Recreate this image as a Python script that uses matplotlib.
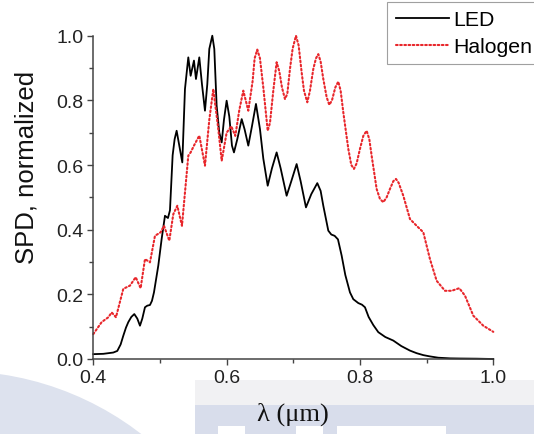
import matplotlib
matplotlib.use("Agg")
import matplotlib.pyplot as plt
from matplotlib.patches import Rectangle, Circle
from matplotlib.ticker import MultipleLocator

# ---- data ----
led_wl = [0.400, 0.415, 0.430, 0.436, 0.441, 0.445, 0.449, 0.4525, 0.457, 0.4615,
          0.466, 0.470, 0.4735, 0.4775, 0.481, 0.485, 0.488, 0.491, 0.4975, 0.5025,
          0.5075, 0.512, 0.515, 0.519, 0.522, 0.525, 0.529, 0.5335, 0.5375, 0.5425,
          0.546, 0.551, 0.554, 0.559, 0.563, 0.5675, 0.571, 0.574, 0.5785, 0.5815,
          0.585, 0.589, 0.5926, 0.596, 0.600, 0.604, 0.608, 0.611, 0.616, 0.6226,
          0.627, 0.6325, 0.638, 0.644, 0.650, 0.655, 0.6616, 0.668, 0.675, 0.681,
          0.690, 0.697, 0.705, 0.711, 0.719, 0.727, 0.736, 0.741, 0.745, 0.7525,
          0.757, 0.762, 0.767, 0.7725, 0.778, 0.785, 0.790, 0.7975, 0.803, 0.8075,
          0.813, 0.820, 0.8275, 0.838, 0.850, 0.862, 0.875, 0.885, 0.895, 0.905,
          0.9175, 0.935, 0.950, 0.975, 1.000]
led_spd = [0.015, 0.016, 0.020, 0.025, 0.045, 0.072, 0.097, 0.114, 0.130, 0.139,
           0.125, 0.103, 0.125, 0.160, 0.165, 0.167, 0.180, 0.206, 0.289, 0.371,
           0.443, 0.436, 0.460, 0.630, 0.680, 0.706, 0.660, 0.608, 0.835, 0.933,
           0.876, 0.923, 0.866, 0.933, 0.850, 0.768, 0.850, 0.959, 1.000, 0.959,
           0.784, 0.700, 0.670, 0.740, 0.799, 0.750, 0.660, 0.639, 0.680, 0.742,
           0.710, 0.660, 0.720, 0.789, 0.711, 0.620, 0.536, 0.590, 0.639, 0.590,
           0.505, 0.550, 0.603, 0.550, 0.469, 0.510, 0.544, 0.520, 0.474, 0.397,
           0.385, 0.381, 0.370, 0.320, 0.260, 0.206, 0.185, 0.173, 0.168, 0.160,
           0.130, 0.105, 0.083, 0.068, 0.057, 0.040, 0.026, 0.018, 0.012, 0.008,
           0.004, 0.002, 0.0015, 0.001, 0.0]

hal_wl = [0.400, 0.4125, 0.4225, 0.4276, 0.434, 0.445, 0.455, 0.4636, 0.471, 0.4775,
          0.485, 0.4925, 0.501, 0.506, 0.514, 0.520, 0.526, 0.533, 0.5425, 0.546,
          0.551, 0.559, 0.5675, 0.574, 0.580, 0.5875, 0.5926, 0.600, 0.607, 0.613,
          0.619, 0.625, 0.6325, 0.639, 0.642, 0.646, 0.650, 0.655, 0.6616, 0.665,
          0.670, 0.675, 0.679, 0.683, 0.6875, 0.691, 0.695, 0.699, 0.704, 0.708,
          0.7125, 0.716, 0.721, 0.725, 0.730, 0.734, 0.7375, 0.741, 0.745, 0.750,
          0.754, 0.758, 0.763, 0.7675, 0.771, 0.775, 0.7825, 0.787, 0.791, 0.795,
          0.800, 0.805, 0.810, 0.814, 0.8175, 0.825, 0.830, 0.835, 0.840, 0.845,
          0.850, 0.854, 0.858, 0.865, 0.875, 0.885, 0.895, 0.905, 0.915, 0.9275,
          0.9375, 0.949, 0.9575, 0.970, 0.985, 1.000]
hal_spd = [0.077, 0.114, 0.129, 0.144, 0.129, 0.217, 0.227, 0.253, 0.219, 0.309,
           0.299, 0.381, 0.392, 0.412, 0.366, 0.448, 0.474, 0.412, 0.629, 0.639,
           0.660, 0.691, 0.598, 0.740, 0.835, 0.711, 0.613, 0.700, 0.720, 0.690,
           0.770, 0.830, 0.768, 0.860, 0.930, 0.957, 0.930, 0.840, 0.706, 0.730,
           0.830, 0.918, 0.890, 0.840, 0.804, 0.820, 0.897, 0.960, 1.000, 0.970,
           0.887, 0.830, 0.794, 0.830, 0.897, 0.930, 0.943, 0.920, 0.866, 0.810,
           0.786, 0.800, 0.840, 0.858, 0.830, 0.763, 0.650, 0.600, 0.588, 0.605,
           0.650, 0.690, 0.706, 0.680, 0.629, 0.526, 0.495, 0.485, 0.500, 0.526,
           0.550, 0.557, 0.545, 0.505, 0.433, 0.412, 0.392, 0.309, 0.242, 0.211,
           0.211, 0.219, 0.196, 0.134, 0.103, 0.084]

x_ticks = [0.4, 0.6, 0.8, 1.0]
y_ticks = [0.0, 0.2, 0.4, 0.6, 0.8, 1.0]

W, H = 534, 435
fig = plt.figure(figsize=(W / 100, H / 100), dpi=100)
fig.patch.set_facecolor("white")

# faint watermark-like background shapes (behind everything)
def px_rect(x0, y0, x1, y1, color):
    fig.patches.append(Rectangle((x0 / W, 1 - y1 / H), (x1 - x0) / W, (y1 - y0) / H,
                                 transform=fig.transFigure, facecolor=color,
                                 edgecolor="none", zorder=-5))

px_rect(195, 381, 534, 406, "#f1f1f3")
px_rect(195, 406, 534, 435, "#d8ddeb")
px_rect(218, 427, 245, 435, "#ffffff")
px_rect(296, 427, 323, 435, "#ffffff")
px_rect(337, 427, 446, 435, "#ffffff")
fig.patches.append(Circle((-0.43, -2.38), 3.01, transform=fig.dpi_scale_trans,
                          facecolor="#dde2ee", edgecolor="none", zorder=-5))

ax = fig.add_axes([93.3 / W, 1 - 360 / H, 400 / W, 323.3 / H])
ax.set_facecolor("none")

ax.plot(led_wl, led_spd, color="black", lw=1.3, label="LED", clip_on=False,
        solid_joinstyle="round")
ax.plot(hal_wl, hal_spd, color="#e8262b", lw=1.5, linestyle=(0, (0.8, 1.2)),
        dash_capstyle="round", label="Halogen", clip_on=False)

ax.set_xlim(0.4, 1.0)
ax.set_ylim(0.0, 1.0)
ax.set_xticks(x_ticks)
ax.set_yticks(y_ticks)
ax.set_xticklabels([f"{v:.1f}" for v in x_ticks])
ax.set_yticklabels([f"{v:.1f}" for v in y_ticks])
ax.xaxis.set_minor_locator(MultipleLocator(0.1))
ax.yaxis.set_minor_locator(MultipleLocator(0.1))

for s in ("top", "right"):
    ax.spines[s].set_visible(False)
for s in ("left", "bottom"):
    ax.spines[s].set_color("#444444")
    ax.spines[s].set_linewidth(1.1)

ax.tick_params(which="major", direction="out", length=4, width=1.0, color="#444444",
               labelsize=14, labelcolor="#222222", pad=3)
ax.tick_params(which="minor", direction="out", length=3, width=1.0, color="#444444")
for lbl in ax.get_xticklabels() + ax.get_yticklabels():
    lbl.set_fontfamily("Liberation Sans")

fig.text(27 / W, 1 - 167 / H, "SPD, normalized", rotation=90, ha="center", va="center",
         fontsize=18.5, family="Liberation Sans", color="#111111")
fig.text(293 / W, 1 - 414 / H, "λ (μm)", ha="center", va="center",
         fontsize=19, family="Liberation Serif", color="#111111")

leg = ax.legend(loc="upper left", bbox_to_anchor=(387 / W, 1 - 3 / H),
                bbox_transform=fig.transFigure, frameon=True,
                fancybox=False, edgecolor="#888888", handlelength=2.5,
                handletextpad=0.2, labelspacing=0.35, borderpad=0.4,
                borderaxespad=0.0, prop={"family": "Liberation Sans", "size": 15.3})
leg.get_frame().set_linewidth(0.8)

fig.savefig("out.png", dpi=100)
